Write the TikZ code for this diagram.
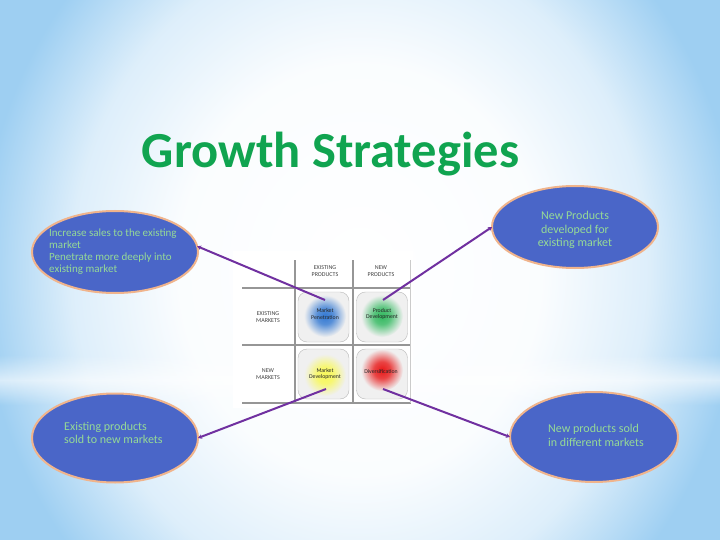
\documentclass[tikz,border=0pt]{standalone}
\usepackage{fontspec}
\setmainfont{Carlito}
\usetikzlibrary{shapes.geometric,arrows.meta,fadings}
\definecolor{bgblue}{RGB}{158,207,242}
\definecolor{ellfill}{RGB}{74,102,200}
\definecolor{ellborder}{RGB}{240,180,140}
\definecolor{txtgreen}{RGB}{150,218,150}
\definecolor{titlegreen}{RGB}{16,164,80}
\definecolor{connpurple}{RGB}{112,48,160}
\definecolor{gridgray}{RGB}{150,150,150}
\definecolor{cellfill}{RGB}{240,240,240}
\definecolor{glowblue}{RGB}{50,120,210}
\definecolor{glowgreen}{RGB}{50,185,95}
\definecolor{glowyellow}{RGB}{248,248,90}
\definecolor{glowred}{RGB}{232,25,25}
\pgfdeclareradialshading{bgshade}{\pgfpoint{0bp}{0bp}}{color(0bp)=(white); color(12bp)=(white!95!bgblue); color(19bp)=(white!65!bgblue); color(25bp)=(bgblue); color(50bp)=(bgblue)}
\pgfdeclareradialshading{gblue}{\pgfpoint{0bp}{0bp}}{color(0bp)=(glowblue); color(10bp)=(glowblue!80!cellfill); color(25bp)=(cellfill); color(50bp)=(cellfill)}
\pgfdeclareradialshading{ggreen}{\pgfpoint{0bp}{0bp}}{color(0bp)=(glowgreen); color(10bp)=(glowgreen!80!cellfill); color(25bp)=(cellfill); color(50bp)=(cellfill)}
\pgfdeclareradialshading{gyellow}{\pgfpoint{0bp}{0bp}}{color(0bp)=(glowyellow); color(10bp)=(glowyellow!85!cellfill); color(25bp)=(cellfill); color(50bp)=(cellfill)}
\pgfdeclareradialshading{gred}{\pgfpoint{0bp}{0bp}}{color(0bp)=(glowred); color(10bp)=(glowred!80!cellfill); color(25bp)=(cellfill); color(50bp)=(cellfill)}
\tikzfading[name=bandfade, top color=transparent!100, bottom color=transparent!100, middle color=transparent!40]
\begin{document}
\begin{tikzpicture}[x=1pt,y=-1pt,
  ell/.style={ellipse, draw=ellborder, line width=2pt, fill=ellfill, inner sep=0pt, outer sep=0pt},
  etext/.style={text=txtgreen, inner sep=0pt},
  conn/.style={draw=connpurple, line width=2pt, -{Stealth[length=4pt,width=4.5pt]}},
  gridline/.style={draw=gridgray, line width=1.2pt},
  cell/.style={draw=gray!55, fill=cellfill, rounded corners=9pt, minimum width=51pt, minimum height=50pt, inner sep=0pt},
  mtext/.style={font=\fontsize{6}{6.8}\selectfont, text=black!75, align=center, inner sep=0pt},
  ctext/.style={font=\fontsize{5.8}{6.8}\selectfont, text=black!85, align=center, inner sep=0pt}
]
\useasboundingbox (0,0) rectangle (720,540);
\begin{scope}
\clip (0,0) rectangle (720,540);
\shade[shading=bgshade] (-20,-160) rectangle (740,700);
\end{scope}
\fill[white, path fading=bandfade] (0,355) rectangle (720,405);

% title
\node[font=\fontsize{50.5}{56}\selectfont\bfseries, text=titlegreen, anchor=base, inner sep=0pt] (title) at (330.5,168) {Growth Strategies};

% ellipses
\node[ell, minimum width=166pt, minimum height=82pt] (tl) at (115,252) {};
\node[ell, minimum width=166pt, minimum height=82pt] (tr) at (575,227) {};
\node[ell, minimum width=166pt, minimum height=89pt] (bl) at (115,438) {};
\node[ell, minimum width=168pt, minimum height=90pt] (br) at (594,437) {};

\node[etext, anchor=west, align=left, font=\fontsize{11}{12}\selectfont] (tltext) at (49,251.5) {Increase sales to the existing\\market\\Penetrate more deeply into\\existing market};
\node[etext, align=center, font=\fontsize{12}{13.5}\selectfont] (trtext) at (575,230) {New Products\\developed for\\existing market};
\node[etext, anchor=west, align=left, font=\fontsize{12}{13}\selectfont] (bltext) at (64,433) {Existing products\\sold to new markets};
\node[etext, anchor=west, align=left, font=\fontsize{12}{14}\selectfont] (brtext) at (548,435) {New products sold\\in different markets};

% matrix
\fill[white] (233,251) rectangle (413,408);
\draw[gridline] (242,288) -- (411,288);
\draw[gridline] (242,345) -- (411,345);
\draw[gridline] (242,403) -- (411,403);
\draw[gridline] (295,260) -- (295,403);
\draw[gridline] (353,260) -- (353,403);
\draw[draw=gridgray!50, line width=0.8pt] (410,260) -- (410,403);

\node[mtext] (h1) at (325,271) {EXISTING\\PRODUCTS};
\node[mtext] (h2) at (381,271) {NEW\\PRODUCTS};
\node[mtext] (r1) at (268,317) {EXISTING\\MARKETS};
\node[mtext] (r2) at (268,374) {NEW\\MARKETS};

\node[cell] (c1) at (323.5,317) {};
\node[cell] (c2) at (382,317) {};
\node[cell] (c3) at (323.5,374) {};
\node[cell] (c4) at (382,374) {};

\shade[shading=gblue] (325,316) circle (21);
\shade[shading=ggreen] (382,316) circle (21);
\shade[shading=gyellow] (325,375) circle (21);
\shade[shading=gred] (382,370) circle (21);

\node[ctext] (t1) at (325,314) {Market\\Penetration};
\node[ctext] (t2) at (382,314) {Product\\Development};
\node[ctext] (t3) at (325,374) {Market\\Development};
\node[ctext] (t4) at (381,372) {Diversification};

\coordinate (mp) at (325,300);
\coordinate (pd) at (383,300);
\coordinate (md) at (326,389);
\coordinate (dv) at (383,389);

% connectors
\draw[conn] (mp) -- (tl.4);
\draw[conn] (pd) -- (tr.west);
\draw[conn] (md) -- (bl.east);
\draw[conn] (dv) -- (br.west);
\end{tikzpicture}
\end{document}
